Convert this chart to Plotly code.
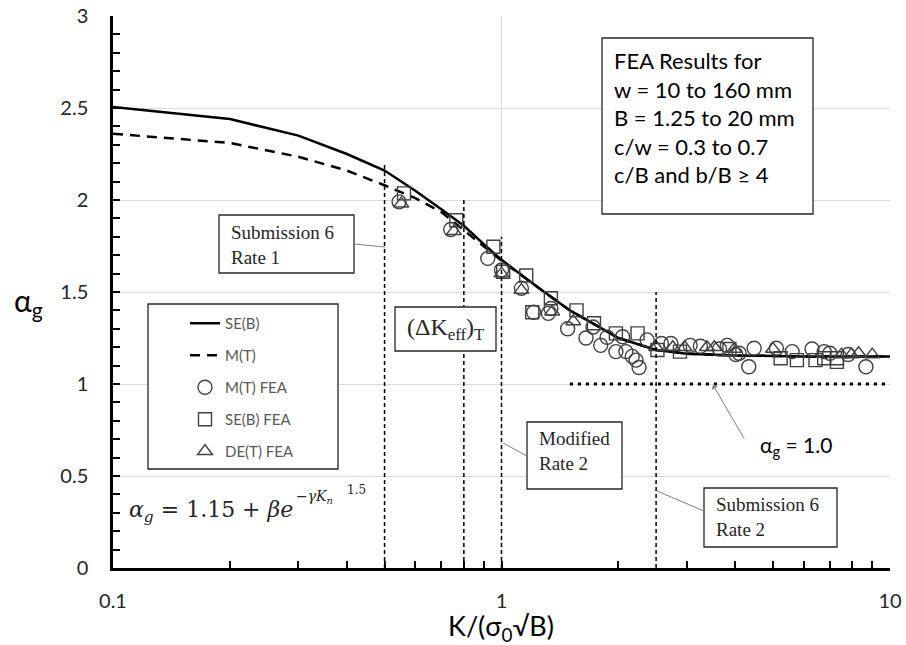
import plotly.graph_objects as go

# ---------------- data ----------------
k_curve = [0.1, 0.2, 0.3, 0.4, 0.5, 0.6, 0.7, 0.8, 0.9, 1.0, 1.25, 1.5, 1.75, 2.0, 2.5, 3.0, 4.0, 6.0, 10.0]
seb_curve = [2.505, 2.44, 2.35, 2.25, 2.16, 2.05, 1.95, 1.86, 1.76, 1.675, 1.52, 1.40, 1.32, 1.25, 1.185, 1.165, 1.155, 1.15, 1.15]
mt_curve = [2.36, 2.31, 2.235, 2.16, 2.08, 2.01, 1.935, 1.835, 1.75, 1.67, 1.52, 1.40, 1.32, 1.25, 1.185, 1.165, 1.155, 1.15, 1.15]

mt_fea_k = [0.545, 0.74, 0.922, 1.0, 1.125, 1.21, 1.32, 1.34, 1.48, 1.65, 1.72, 1.80, 1.87, 1.97, 2.05,
            2.09, 2.17, 2.22, 2.26, 2.37, 2.58, 2.73, 3.06, 3.25, 3.64, 3.81, 4.01, 4.09, 4.33, 4.47,
            5.1, 5.6, 6.3, 6.77, 7.0, 7.8, 8.67]
mt_fea_a = [1.99, 1.84, 1.683, 1.62, 1.52, 1.39, 1.384, 1.41, 1.30, 1.25, 1.31, 1.21, 1.254, 1.176, 1.257,
            1.176, 1.15, 1.13, 1.09, 1.24, 1.22, 1.22, 1.21, 1.205, 1.19, 1.21, 1.16, 1.167, 1.094, 1.194,
            1.194, 1.176, 1.19, 1.176, 1.167, 1.16, 1.094]

seb_fea_k = [0.561, 0.765, 0.953, 1.01, 1.158, 1.20, 1.34, 1.56, 1.73, 1.97, 2.24, 2.52, 2.88, 3.86,
             5.23, 5.76, 6.43, 6.77, 7.3, 7.3]
seb_fea_a = [2.036, 1.89, 1.746, 1.61, 1.59, 1.39, 1.466, 1.40, 1.33, 1.275, 1.275, 1.185, 1.176, 1.19,
             1.14, 1.13, 1.13, 1.14, 1.14, 1.12]

det_fea_k = [0.552, 0.754, 1.0, 1.125, 1.35, 1.53, 2.50, 2.76, 2.96, 3.38, 3.53, 3.97, 5.0, 7.5, 7.95, 8.3, 9.0]
det_fea_a = [1.98, 1.83, 1.60, 1.51, 1.393, 1.34, 1.20, 1.20, 1.20, 1.20, 1.20, 1.19, 1.19, 1.16, 1.16, 1.167, 1.16]

rate_k = [0.5, 0.8, 1.0, 2.5]
rate_top = [2.19, 2.0, 1.8, 1.5]
unity_k = [1.5, 10.0]
unity_a = [1.0, 1.0]

x_ticks = [0.1, 1, 10]
x_ticktext = ["0.1", "1", "10"]
x_minor = [0.2, 0.3, 0.4, 0.5, 0.6, 0.7, 0.8, 0.9, 2, 3, 4, 5, 6, 7, 8, 9]

# ---------------- layout helpers ----------------
W, H = 906, 645
PL, PR, PT, PB = 113, 890, 16, 568


def fx(px):
    return (px - PL) / (PR - PL)


def fy(py):
    return (PB - py) / (PB - PT)


SANS = "Lato"
SERIF = "Liberation Serif"
MATH = "DejaVu Serif"
MK = "#404040"

fig = go.Figure()

fig.add_trace(go.Scatter(x=k_curve, y=seb_curve, mode="lines", name="SE(B)",
                         line=dict(color="black", width=2.5), legendgroup="a"))
fig.add_trace(go.Scatter(x=k_curve, y=mt_curve, mode="lines", name="M(T)",
                         line=dict(color="black", width=2.5, dash="10px,7px"), legendgroup="b"))
fig.add_trace(go.Scatter(x=mt_fea_k, y=mt_fea_a, mode="markers", name="M(T) FEA", legendgroup="c",
                         marker=dict(symbol="circle-open", size=14, color=MK, line=dict(width=1.4, color=MK))))
fig.add_trace(go.Scatter(x=seb_fea_k, y=seb_fea_a, mode="markers", name="SE(B) FEA", legendgroup="d",
                         marker=dict(symbol="square-open", size=13, color=MK, line=dict(width=1.4, color=MK))))
fig.add_trace(go.Scatter(x=det_fea_k, y=det_fea_a, mode="markers", name="DE(T) FEA", legendgroup="e",
                         marker=dict(symbol="triangle-up-open", size=13, color=MK, line=dict(width=1.4, color=MK))))
fig.add_trace(go.Scatter(x=unity_k, y=unity_a, mode="lines", showlegend=False, hoverinfo="skip",
                         line=dict(color="black", width=3, dash="3px,5px")))

shapes = []
for k, top in zip(rate_k, rate_top):
    shapes.append(dict(type="line", xref="x", yref="y", x0=k, x1=k, y0=0, y1=top,
                       line=dict(color="black", width=1.5, dash="4px,3px")))

# boxes (pixel coordinates of the frames)
boxes = [(148, 304, 338, 469), (219, 215, 354, 273), (395, 307, 496, 351),
         (527, 422, 622, 489), (704, 488, 837, 547), (602, 38, 813, 214)]
for x0, y0, x1, y1 in boxes:
    shapes.append(dict(type="rect", xref="paper", yref="paper", x0=fx(x0), x1=fx(x1), y0=fy(y0), y1=fy(y1),
                       fillcolor="white", line=dict(color="#262626", width=1.3), layer="above"))

connectors = [(354, 244, 385, 247), (503, 443, 527, 456), (657, 491, 704, 511)]
for x0, y0, x1, y1 in connectors:
    shapes.append(dict(type="line", xref="paper", yref="paper", x0=fx(x0), x1=fx(x1), y0=fy(y0), y1=fy(y1),
                       line=dict(color="#7f7f7f", width=1)))

ann = []


def text(px, py, s, size, font=SERIF, xanchor="left", yanchor="middle", color="#262626", align="left"):
    ann.append(dict(xref="paper", yref="paper", x=fx(px), y=fy(py), text=s, showarrow=False,
                    xanchor=xanchor, yanchor=yanchor, align=align,
                    font=dict(family=font, size=size, color=color)))


text(229, 220, "Submission 6<br>Rate 1", 19, yanchor="top")
text(445.5, 329, "(ΔK<sub>eff</sub>)<sub>T</sub>", 24, xanchor="center")
text(537, 426, "Modified<br>Rate 2", 19, yanchor="top")
text(714, 492, "Submission 6<br>Rate 2", 19, yanchor="top")
text(612, 45, "FEA Results for<br>w = 10 to 160 mm<br>B = 1.25 to 20 mm<br>c/w = 0.3 to 0.7<br>c/B and b/B ≥ 4",
     22, font=SANS, yanchor="top", color="black")
text(127, 511, "<i>α</i><sub><i>g</i></sub> = 1.15 + <i>βe</i>", 22, font=MATH)
text(294, 497, "<i>−γK</i><sub><i>n</i></sub>", 14, font=MATH)
text(345, 490, "1.5", 12, font=MATH)
text(758, 446, "α<sub>g</sub> = 1.0", 21, font=SANS, color="black")
text(12, 302, "α<sub>g</sub>", 30, font=SANS, color="black")
text(501, 627, "K/(σ<sub>0</sub>√B)", 27, font=SANS, xanchor="center", color="black")

ann.append(dict(xref="paper", yref="paper", x=fx(713), y=fy(385), ax=32, ay=55, text="", showarrow=True,
                arrowhead=1, arrowsize=1.2, arrowwidth=1, arrowcolor="#7f7f7f"))

fig.update_layout(
    width=W, height=H,
    margin=dict(l=PL, r=W - PR, t=PT, b=H - PB, autoexpand=False),
    paper_bgcolor="white", plot_bgcolor="white",
    shapes=shapes, annotations=ann,
    showlegend=True,
    legend=dict(x=fx(185), y=fy(307), xanchor="left", yanchor="top", bgcolor="rgba(0,0,0,0)",
                borderwidth=0, traceorder="grouped", tracegroupgap=9.5,
                font=dict(family=SANS, size=15, color="#595959")),
    xaxis=dict(type="log", range=[-1, 1], tickvals=x_ticks, ticktext=x_ticktext, automargin=False,
               ticks="inside", ticklen=7, tickwidth=1.5, tickcolor="black",
               showline=True, linecolor="black", linewidth=2.5,
               showgrid=True, gridcolor="#d9d9d9", gridwidth=1, zeroline=False,
               minor=dict(tickmode="array", tickvals=x_minor, ticks="inside", ticklen=7, tickwidth=1.5,
                          tickcolor="black", showgrid=False),
               tickfont=dict(family=SANS, size=20, color="#262626"), ticklabelstandoff=13),
    yaxis=dict(range=[0, 3], dtick=0.5, ticks="inside", ticklen=7, tickwidth=1.5, tickcolor="black",
               showline=True, linecolor="black", linewidth=2.5, automargin=False,
               showgrid=True, gridcolor="#d9d9d9", gridwidth=1, zeroline=False,
               minor=dict(dtick=0.1, ticks="inside", ticklen=7, tickwidth=1.5, tickcolor="black", showgrid=False),
               tickfont=dict(family=SANS, size=20, color="#262626"), ticklabelstandoff=18),
)

fig.write_html("out.html", config={"displayModeBar": False},
               post_script="document.body.style.margin='0px';")
